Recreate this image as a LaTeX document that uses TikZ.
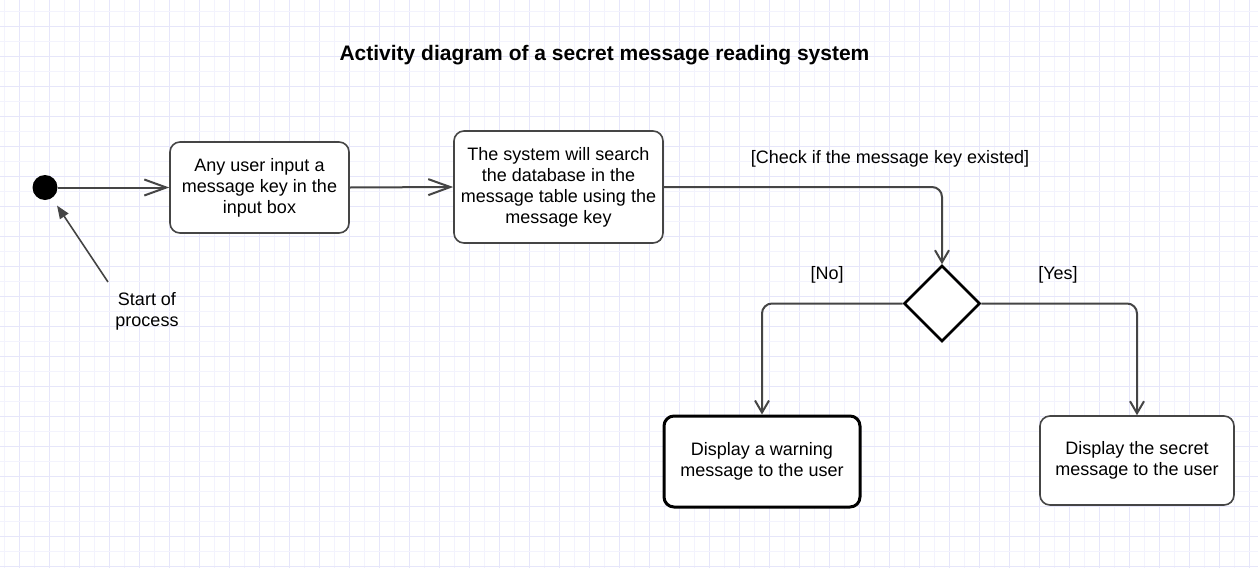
\documentclass[tikz,border=0pt]{standalone}
\usepackage{fontspec}
\setmainfont{Liberation Sans}
\usetikzlibrary{arrows.meta,shapes.geometric}
\definecolor{gridlight}{HTML}{F3F3FD}
\definecolor{griddark}{HTML}{E6E6FA}
\definecolor{linegrey}{HTML}{454545}
\tikzset{
  txt/.style={font=\fontsize{18}{21}\selectfont, align=center, text=black},
  actbox/.style={draw=linegrey, line width=1.6pt, rounded corners=10pt, fill=white, txt},
  boldbox/.style={draw=black, line width=3pt, rounded corners=10pt, fill=white, txt},
  conn/.style={draw=linegrey, line width=2pt, rounded corners=10pt},
  bigbarb/.style={-{Straight Barb[length=22pt,width=16pt]}},
  smallbarb/.style={-{Straight Barb[length=12pt,width=14pt]}},
}
\begin{document}
\begin{tikzpicture}[x=1pt,y=-1pt]
\useasboundingbox (0,0) rectangle (1258,568);
\fill[white] (0,0) rectangle (1258,568);
\foreach \i in {0,...,42} {
  \draw[gridlight, line width=1pt] (4.3+30*\i,0) -- (4.3+30*\i,568);
  \draw[griddark, line width=1pt] (19.3+30*\i,0) -- (19.3+30*\i,568);
}
\foreach \i in {0,...,19} {
  \draw[gridlight, line width=1pt] (0,11+30*\i) -- (1258,11+30*\i);
  \draw[griddark, line width=1pt] (0,26+30*\i) -- (1258,26+30*\i);
}
\node[font=\fontsize{21}{25}\selectfont\bfseries] (title) at (604.5,55) {Activity diagram of a secret message reading system};
\node[circle, fill=black, minimum size=25pt, inner sep=0pt] (start) at (45,187.5) {};
\node[actbox, minimum width=179pt, minimum height=91pt] (b1) at (259.5,187.5)
  {Any user input a\\message key in the\\input box};
\node[actbox, minimum width=209pt, minimum height=112pt] (b2) at (558.5,187)
  {The system will search\\the database in the\\message table using the\\message key};
\node[diamond, draw=black, line width=2.6pt, fill=white, minimum width=76pt, minimum height=76pt, inner sep=0pt] (dec) at (942,303.5) {};
\node[boldbox, minimum width=196pt, minimum height=91pt] (b3) at (762,461.5)
  {Display a warning\\message to the user};
\node[actbox, minimum width=194pt, minimum height=89pt] (b4) at (1137,460.5)
  {Display the secret\\message to the user};
\draw[conn, bigbarb] (start.east) -- (b1.west);
\draw[conn, bigbarb] (b1.east) -- (b2.west);
\draw[conn, smallbarb] (b2.east) -| (dec.north);
\draw[conn, smallbarb] (dec.west) -| (b3.north);
\draw[conn, smallbarb] (dec.east) -| (b4.north);
\node[txt] (lcheck) at (890,159) {[Check if the message key existed]};
\node[txt] (lno) at (827,275) {[No]};
\node[txt] (lyes) at (1058,275) {[Yes]};
\node[txt] (note) at (147,311.5) {Start of\\process};
\coordinate (notetail) at (108,282);
\draw[draw=linegrey, line width=1.6pt, -{Triangle[length=13pt,width=10pt]}, shorten >=9pt] (notetail) -- (start);
\end{tikzpicture}
\end{document}
